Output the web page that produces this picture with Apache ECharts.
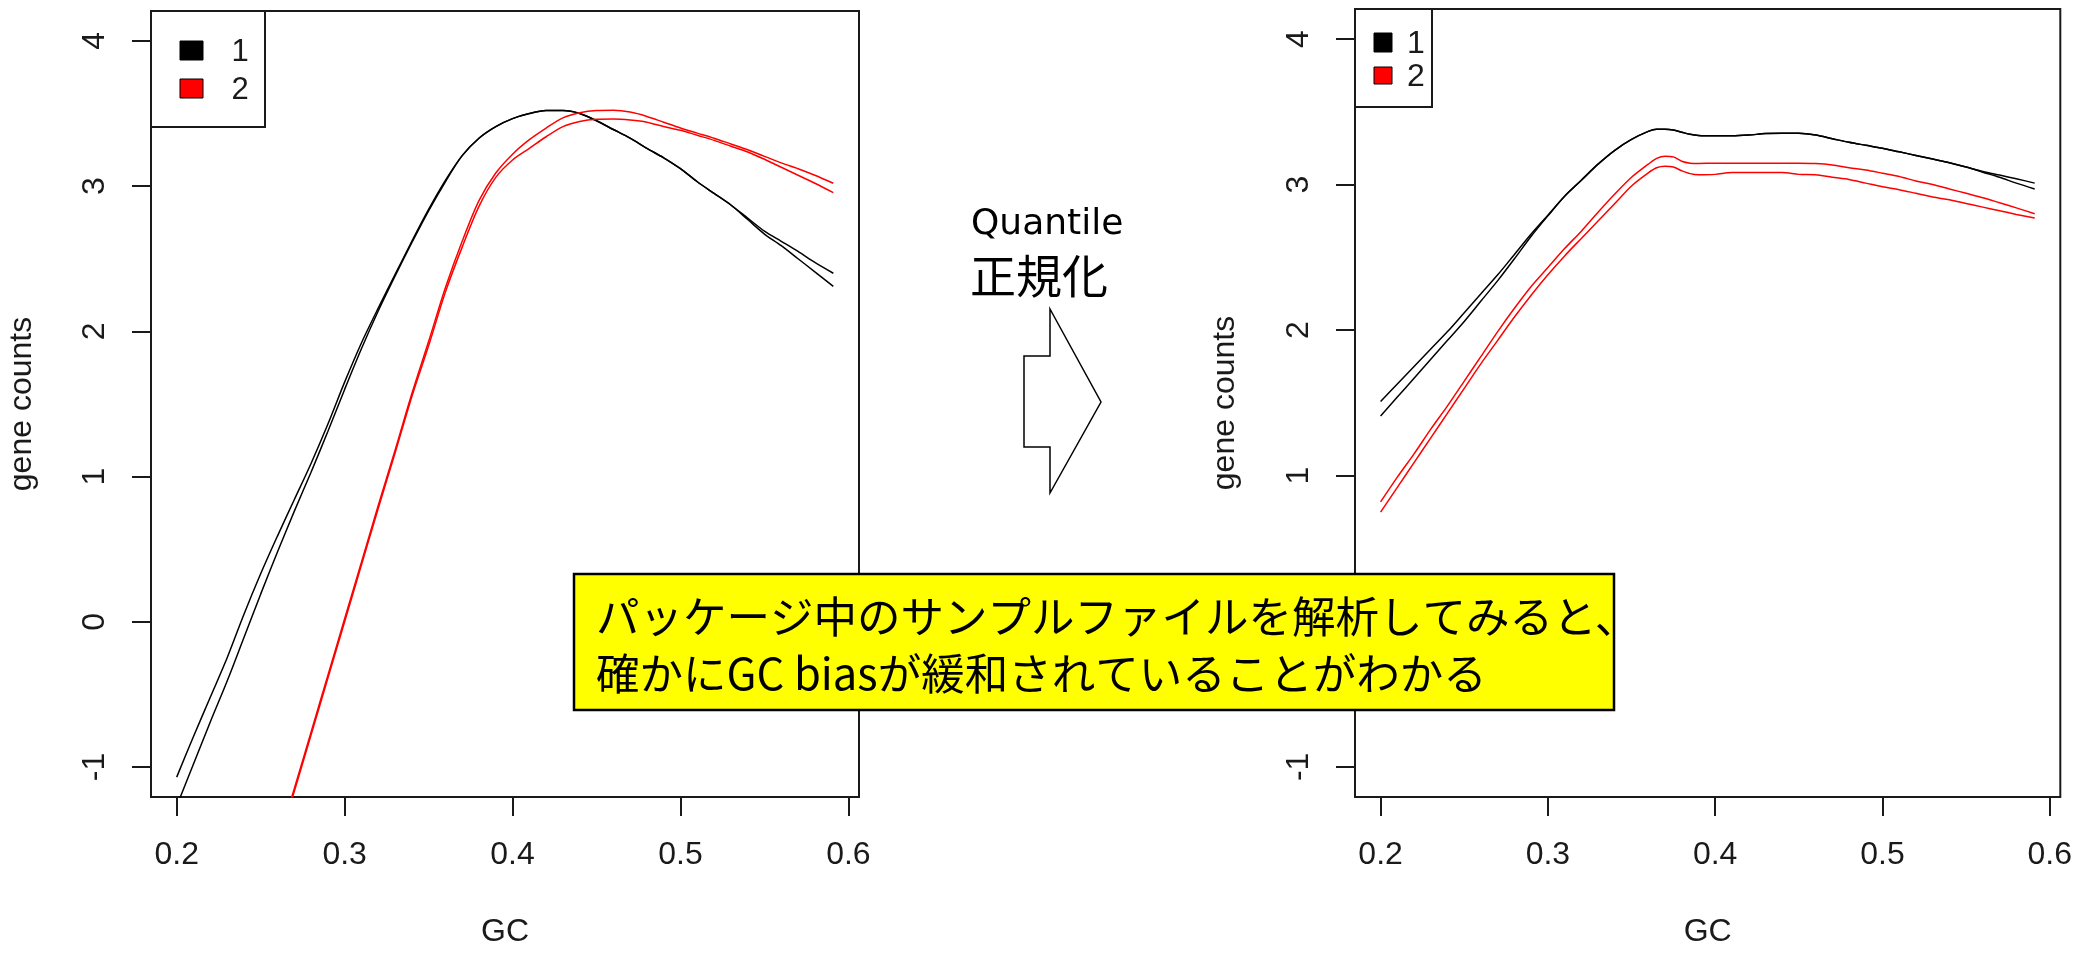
<!DOCTYPE html>
<html>
<head>
<meta charset="utf-8">
<title>GC bias before and after Quantile normalization</title>
<script src="https://cdn.jsdelivr.net/npm/echarts@6/dist/echarts.min.js"></script>
<style>
  html, body { margin: 0; padding: 0; background: #fff; }
  #chart { width: 2075px; height: 953px; }
</style>
</head>
<body>
<div id="chart"></div>
<script>
// GC content grid for the raw-count curves (left panel)
const gcRaw = [0.20, 0.21, 0.22, 0.23, 0.24, 0.25, 0.26, 0.27, 0.28, 0.29,
               0.30, 0.31, 0.32, 0.33, 0.34, 0.35, 0.36, 0.37, 0.38, 0.39,
               0.40, 0.41, 0.42, 0.43, 0.44, 0.45, 0.46, 0.47, 0.48, 0.49,
               0.50, 0.51, 0.52, 0.53, 0.54, 0.55, 0.56, 0.57, 0.58, 0.591];

// Group 1, two lanes (black)
const raw1a = [-1.07, -0.79, -0.52, -0.25, 0.05, 0.33, 0.59, 0.84, 1.09, 1.36,
               1.65, 1.92, 2.16, 2.39, 2.62, 2.84, 3.04, 3.21, 3.33, 3.41,
               3.465, 3.50, 3.52, 3.52, 3.50, 3.45, 3.39, 3.33, 3.26, 3.195,
               3.12, 3.03, 2.95, 2.87, 2.78, 2.69, 2.62, 2.55, 2.475, 2.40];
const raw1b = [-1.27, -0.98, -0.69, -0.41, -0.11, 0.19, 0.48, 0.76, 1.03, 1.31,
               1.60, 1.88, 2.14, 2.38, 2.61, 2.83, 3.03, 3.21, 3.33, 3.41,
               3.465, 3.50, 3.52, 3.52, 3.50, 3.45, 3.39, 3.33, 3.26, 3.195,
               3.12, 3.03, 2.95, 2.87, 2.77, 2.67, 2.59, 2.50, 2.41, 2.31];
// Group 2, two lanes (red); below GC 0.26 the curves lie under the axis range
const raw2a = [null, null, null, null, null, null, -1.53, -1.15, -0.76, -0.37,
               0.02, 0.41, 0.80, 1.18, 1.57, 1.93, 2.30, 2.62, 2.90, 3.09,
               3.22, 3.32, 3.40, 3.47, 3.505, 3.52, 3.522, 3.51, 3.48, 3.44,
               3.40, 3.365, 3.33, 3.29, 3.25, 3.205, 3.16, 3.12, 3.075, 3.02];
const raw2b = [null, null, null, null, null, null, -1.55, -1.17, -0.78, -0.39,
               0.00, 0.39, 0.78, 1.16, 1.55, 1.90, 2.27, 2.58, 2.86, 3.06,
               3.18, 3.26, 3.34, 3.41, 3.445, 3.46, 3.462, 3.455, 3.44, 3.41,
               3.385, 3.35, 3.315, 3.275, 3.235, 3.185, 3.13, 3.075, 3.02, 2.955];

// GC content grid for the normalized curves (right panel)
const gcNorm = [0.20, 0.21, 0.22, 0.23, 0.24, 0.25, 0.26, 0.27, 0.28, 0.29,
                0.30, 0.31, 0.32, 0.33, 0.34, 0.35, 0.36, 0.365, 0.37, 0.375,
                0.38, 0.385, 0.39, 0.40, 0.41, 0.42, 0.43, 0.44, 0.45, 0.46,
                0.47, 0.48, 0.49, 0.50, 0.51, 0.52, 0.53, 0.54, 0.55, 0.56,
                0.57, 0.58, 0.591];
const norm1a = [1.51, 1.63, 1.75, 1.87, 1.99, 2.12, 2.25, 2.38, 2.52, 2.66,
                2.79, 2.92, 3.03, 3.14, 3.235, 3.31, 3.365, 3.38, 3.38, 3.375,
                3.36, 3.345, 3.337, 3.335, 3.335, 3.34, 3.35, 3.353, 3.353, 3.34,
                3.315, 3.29, 3.27, 3.25, 3.225, 3.20, 3.175, 3.15, 3.12, 3.09,
                3.065, 3.04, 3.01];
const norm1b = [1.41, 1.54, 1.67, 1.80, 1.93, 2.06, 2.20, 2.34, 2.49, 2.645,
                2.785, 2.92, 3.03, 3.14, 3.235, 3.31, 3.365, 3.38, 3.38, 3.375,
                3.36, 3.345, 3.337, 3.335, 3.335, 3.34, 3.35, 3.353, 3.353, 3.34,
                3.315, 3.29, 3.27, 3.25, 3.225, 3.20, 3.175, 3.15, 3.12, 3.085,
                3.05, 3.01, 2.97];
const norm2a = [0.82, 0.99, 1.15, 1.32, 1.48, 1.65, 1.82, 1.99, 2.15, 2.30,
                2.43, 2.56, 2.68, 2.81, 2.935, 3.05, 3.14, 3.18, 3.195, 3.19,
                3.16, 3.147, 3.145, 3.147, 3.147, 3.147, 3.147, 3.147, 3.147, 3.145,
                3.135, 3.115, 3.10, 3.078, 3.055, 3.025, 3.00, 2.97, 2.94, 2.91,
                2.875, 2.84, 2.80];
const norm2b = [0.75, 0.92, 1.09, 1.26, 1.43, 1.60, 1.77, 1.93, 2.09, 2.24,
                2.38, 2.51, 2.63, 2.75, 2.87, 2.99, 3.08, 3.115, 3.125, 3.12,
                3.095, 3.075, 3.067, 3.07, 3.083, 3.083, 3.083, 3.083, 3.07, 3.067,
                3.05, 3.035, 3.01, 2.985, 2.965, 2.94, 2.915, 2.895, 2.87, 2.845,
                2.82, 2.795, 2.77];

// Tick positions and labels
const gcTicks = [0.2, 0.3, 0.4, 0.5, 0.6];
const countTicks = [-1, 0, 1, 2, 3, 4];
const groupLabels = ['1', '2'];
const groupColors = ['#000000', '#ff0000'];

const noteLines = ['パッケージ中のサンプルファイルを解析してみると、',
                   '確かにGC biasが緩和されていることがわかる'];
const methodLines = ['Quantile', '正規化'];

const AX_FONT = '"Liberation Sans", Arial, sans-serif';
const JP_FONT = '"Noto Sans CJK JP", sans-serif';
const INK = '#1a1a1a';

function pairs(xs, ys) {
  return xs.map((x, i) => [x, ys[i]]);
}

function makeXAxis(gridIndex) {
  return {
    type: 'value', gridIndex: gridIndex,
    min: 0.1847, max: 0.6063,
    name: 'GC', nameLocation: 'middle', nameGap: 135,
    nameTextStyle: { fontSize: 32, fontFamily: AX_FONT, color: INK, verticalAlign: 'middle' },
    axisLine: { show: false, onZero: false },
    axisTick: { show: true, length: 19, lineStyle: { color: INK, width: 2 }, customValues: gcTicks },
    axisLabel: { customValues: gcTicks, margin: 58, fontSize: 32, fontFamily: AX_FONT, color: INK,
                 verticalAlign: 'middle', formatter: v => v.toFixed(1) },
    splitLine: { show: false }
  };
}

function makeYAxis(gridIndex, gap) {
  return {
    type: 'value', gridIndex: gridIndex,
    min: -1.207, max: 4.206,
    name: 'gene counts', nameLocation: 'middle', nameGap: gap,
    nameTextStyle: { fontSize: 32, fontFamily: AX_FONT, color: INK, verticalAlign: 'middle' },
    axisLine: { show: false, onZero: false },
    axisTick: { show: true, length: 19, lineStyle: { color: INK, width: 2 }, customValues: countTicks },
    axisLabel: { customValues: countTicks, rotate: 90, margin: 56, fontSize: 32, fontFamily: AX_FONT,
                 color: INK, align: 'center', verticalAlign: 'middle', formatter: v => String(v) },
    splitLine: { show: false }
  };
}

function lineSeries(name, xs, ys, color, axisIndex) {
  return {
    type: 'line', name: name,
    xAxisIndex: axisIndex, yAxisIndex: axisIndex,
    data: pairs(xs, ys),
    showSymbol: false, symbol: 'none',
    smooth: 0.3,
    clip: true, connectNulls: false,
    lineStyle: { color: color, width: 1.5 },
    z: 3
  };
}

function legendBox(x, y, w, h, squares, labelX, labelYs, fontSize) {
  const els = [{
    type: 'rect', z: 50,
    shape: { x: x, y: y, width: w, height: h },
    style: { fill: '#ffffff', stroke: INK, lineWidth: 2 }
  }];
  squares.forEach((sq, i) => {
    els.push({
      type: 'rect', z: 51,
      shape: { x: sq[0], y: sq[1], width: sq[2], height: sq[3] },
      style: { fill: groupColors[i], stroke: '#000', lineWidth: 1 }
    });
    els.push({
      type: 'text', z: 51, x: labelX, y: labelYs[i],
      style: { text: groupLabels[i], fontSize: fontSize, fontFamily: AX_FONT, fill: INK,
               align: 'center', verticalAlign: 'middle' }
    });
  });
  return els;
}

const chart = echarts.init(document.getElementById('chart'), null, { renderer: 'canvas' });

const graphics = []
  .concat(legendBox(151, 11, 114, 116, [[180, 41, 23, 19], [180, 79, 23, 19]], 240, [52, 90], 31))
  .concat(legendBox(1355, 9, 77, 98, [[1374, 33, 18, 19], [1374, 67, 18, 17]], 1416, [44, 77], 32))
  .concat([
    {
      type: 'text', z: 60, x: 971, y: 225,
      style: { text: methodLines[0], fontSize: 36, fontFamily: '"DejaVu Sans", sans-serif', fill: '#000',
               align: 'left', verticalAlign: 'middle' }
    },
    {
      type: 'text', z: 60, x: 970, y: 276,
      style: { text: methodLines[1], fontSize: 46, fontFamily: JP_FONT, fill: '#000',
               align: 'left', verticalAlign: 'middle' }
    },
    {
      type: 'polygon', z: 60,
      shape: { points: [[1050, 309], [1101, 402], [1050, 493], [1050, 447], [1024, 447], [1024, 356], [1050, 356]] },
      style: { fill: '#ffffff', stroke: '#000', lineWidth: 1.5 }
    },
    {
      type: 'rect', z: 70,
      shape: { x: 574, y: 574, width: 1040, height: 136 },
      style: { fill: '#ffff00', stroke: '#000', lineWidth: 2.5 }
    },
    {
      type: 'text', z: 71, x: 596, y: 588,
      style: { text: noteLines.join('\n'), fontSize: 43.5, lineHeight: 57, fontFamily: JP_FONT, fill: '#000',
               align: 'left', verticalAlign: 'top' }
    }
  ]);

chart.setOption({
  animation: false,
  backgroundColor: '#ffffff',
  grid: [
    { left: 151, top: 11, width: 708, height: 789.5, show: true, borderColor: INK, borderWidth: 2,
      backgroundColor: 'transparent', containLabel: false },
    { left: 1355, top: 9, width: 708, height: 789.3, show: true, borderColor: INK, borderWidth: 2,
      backgroundColor: 'transparent', containLabel: false }
  ],
  xAxis: [makeXAxis(0), makeXAxis(1)],
  yAxis: [makeYAxis(0, 129), makeYAxis(1, 130)],
  series: [
    lineSeries(groupLabels[0], gcRaw, raw1a, groupColors[0], 0),
    lineSeries(groupLabels[0], gcRaw, raw1b, groupColors[0], 0),
    lineSeries(groupLabels[1], gcRaw, raw2a, groupColors[1], 0),
    lineSeries(groupLabels[1], gcRaw, raw2b, groupColors[1], 0),
    lineSeries(groupLabels[0], gcNorm, norm1a, groupColors[0], 1),
    lineSeries(groupLabels[0], gcNorm, norm1b, groupColors[0], 1),
    lineSeries(groupLabels[1], gcNorm, norm2a, groupColors[1], 1),
    lineSeries(groupLabels[1], gcNorm, norm2b, groupColors[1], 1)
  ],
  graphic: { elements: graphics }
});
</script>
</body>
</html>
